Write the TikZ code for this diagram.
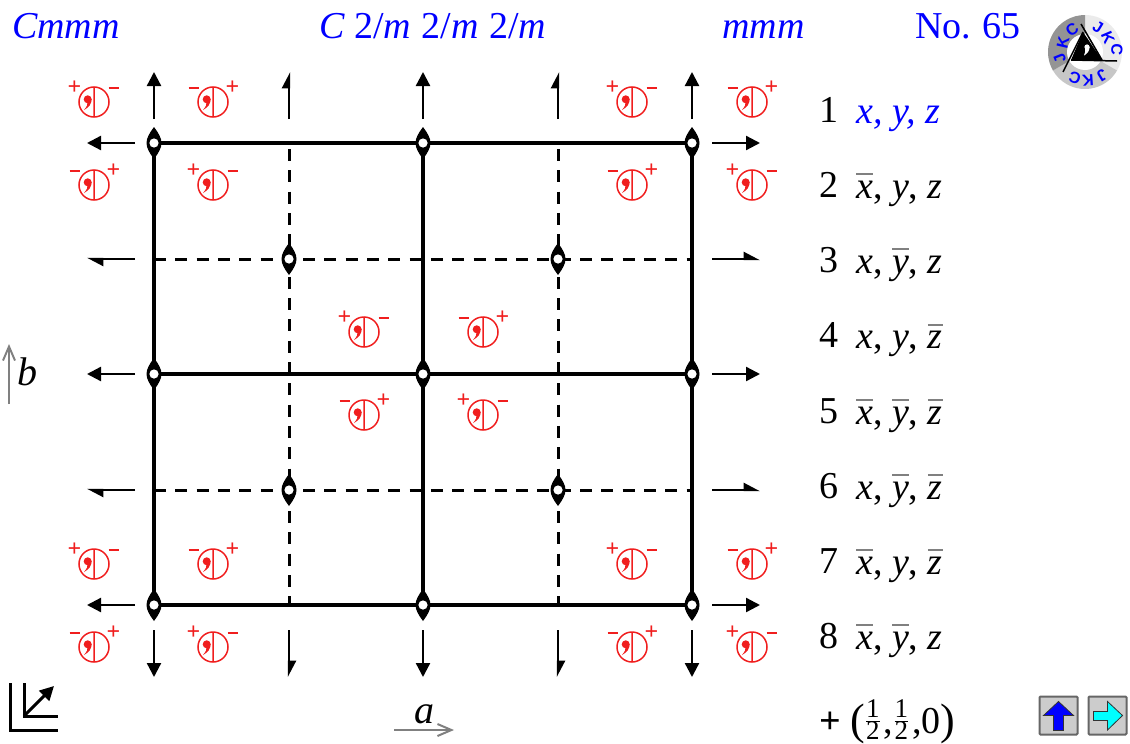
\documentclass[tikz,border=0pt]{standalone}
\usepackage{fontspec}
\setmainfont{Liberation Serif}
\setsansfont{Liberation Sans}
\usetikzlibrary{arrows.meta}
\definecolor{spgblue}{RGB}{0,0,255}
\definecolor{spgred}{RGB}{240,30,30}
\definecolor{spgcyan}{RGB}{0,255,255}
\newsavebox{\ovlbox}
\newcommand{\ovl}[1]{\sbox{\ovlbox}{\textit{#1}}\leavevmode\rlap{\raisebox{23pt}{\textcolor{black!50}{\rule{\wd\ovlbox}{1.8pt}}}}\usebox{\ovlbox}}
\newcommand{\sz}{\fontsize{38}{42}\selectfont}
\newcommand{\hfr}{\raisebox{6pt}{$\frac{\mbox{\fontsize{27}{27}\selectfont 1}}{\mbox{\fontsize{27}{27}\selectfont 2}}$}}
\tikzset{
  x=1pt,y=-1pt,
  title/.style={inner sep=0,anchor=base west,text=spgblue,font=\sz},
  listing/.style={inner sep=0,anchor=base west,font=\sz},
  solidaxis/.style={line width=3.3pt,black},
  dashaxis/.style={line width=3pt,black,dash pattern=on 12pt off 9.3pt},
  fullarrow/.style={line width=2.3pt,-{Triangle[length=14pt,width=14pt]}},
  halfA/.style={line width=2.3pt,-{Triangle[left,length=14pt,width=14pt]}},
  grayarrow/.style={line width=2pt,draw=black!50,-{Straight Barb[length=14pt,width=12pt]}},
  sgn/.style={inner sep=0,text=spgred,font=\bfseries\fontsize{24}{24}\selectfont},
  logoL/.style={inner sep=0,text=spgblue,font=\sffamily\bfseries\fontsize{16}{16}\selectfont},
  navbtn/.style={draw=black!60,line width=2pt,fill=black!20,rounded corners=1pt,minimum size=38pt,inner sep=0},
  axisnode/.pic={
    \fill[black] (0,-16) .. controls (4.5,-10) and (7.5,-5) .. (7.5,0) .. controls (7.5,5) and (4.5,10) .. (0,16)
      .. controls (-4.5,10) and (-7.5,5) .. (-7.5,0) .. controls (-7.5,-5) and (-4.5,-10) .. (0,-16) -- cycle;
    \fill[white] (0,0) circle (4.6);
  },
  sym/.pic={
    \draw[spgred,line width=1.5pt] (0,0) circle (15) (0,-15) -- (0,15);
    \fill[spgred] (-6.3,-2.7) circle (4);
    \fill[spgred] (-2.4,-3) .. controls (-2.2,1.5) and (-5,5.5) .. (-10,8) .. controls (-7,4.5) and (-6,2) .. (-6.5,0) -- cycle;
  }
}
\newcommand{\symb}[4]{% x y leftsign rightsign
  \pic at (#1,#2) {sym};
  \node[sgn] at (#1-19.5,#2-14) {#3};
  \node[sgn] at (#1+19.5,#2-14.5) {#4};
}
\newcommand{\pl}{+}
\newcommand{\mi}{\rule{10pt}{2pt}}
\begin{document}
\begin{tikzpicture}
\useasboundingbox (0,0) rectangle (1130,744);
% titles
\node[title] (t1) at (12,38) {\itshape Cmmm};
\node[title] (t2) at (319,38) {\textit{C} 2/\textit{m}\hspace{1pt} 2/\textit{m}\hspace{1pt} 2/\textit{m}};
\node[title] (t3) at (722,38) {\itshape mmm};
\node[title] (t4) at (915,38) {No.\hspace{-1pt} 65};
% grid points
\foreach \i/\x in {1/154,2/289,3/423,4/558,5/692}
  \foreach \j/\y in {1/143,2/259,3/374,4/490,5/605}
    \coordinate (g\i\j) at (\x,\y);
% axes
\foreach \j in {1,3,5} \draw[solidaxis] (g1\j) -- (g5\j);
\foreach \i in {1,3,5} \draw[solidaxis] (g\i1) -- (g\i5);
\foreach \j in {2,4} \draw[dashaxis] (g1\j) -- (g5\j);
\foreach \i in {2,4} \draw[dashaxis,dash phase=15.3pt] (g\i1) -- (g\i5);
% rotation-point symbols
\foreach \p in {g11,g31,g51,g22,g42,g13,g33,g53,g24,g44,g15,g35,g55}
  \pic at (\p) {axisnode};
% vertical arrows
\foreach \x in {154,423,692}{
  \coordinate (ua) at (\x,119); \coordinate (ub) at (\x,72);
  \coordinate (da) at (\x,630); \coordinate (db) at (\x,677);
  \draw[fullarrow] (ua) -- (ub);
  \draw[fullarrow] (da) -- (db);
}
\foreach \x in {289,558}{
  \coordinate (ua) at (\x,119); \coordinate (ub) at (\x,72);
  \coordinate (da) at (\x,630); \coordinate (db) at (\x,677);
  \draw[halfA] (ua) -- (ub);
  \draw[halfA] (da) -- (db);
}
% horizontal arrows
\foreach \y in {143,374,605}{
  \coordinate (la) at (135,\y); \coordinate (lb) at (87,\y);
  \coordinate (ra) at (712,\y); \coordinate (rb) at (760,\y);
  \draw[fullarrow] (la) -- (lb);
  \draw[fullarrow] (ra) -- (rb);
}
\foreach \y in {259,490}{
  \coordinate (la) at (135,\y); \coordinate (lb) at (87,\y);
  \coordinate (ra) at (712,\y); \coordinate (rb) at (760,\y);
  \draw[halfA] (la) -- (lb);
  \draw[halfA] (ra) -- (rb);
}
% symmetry symbols
\foreach \x/\a/\b in {94/\pl/\mi,213/\mi/\pl,632/\pl/\mi,752/\mi/\pl}{
  \symb{\x}{102}{\a}{\b}
  \symb{\x}{564}{\a}{\b}
}
\foreach \x/\a/\b in {94/\mi/\pl,213/\pl/\mi,632/\mi/\pl,752/\pl/\mi}{
  \symb{\x}{185}{\a}{\b}
  \symb{\x}{647}{\a}{\b}
}
\symb{364}{332}{\pl}{\mi}
\symb{483}{332}{\mi}{\pl}
\symb{364}{415}{\mi}{\pl}
\symb{483}{415}{\pl}{\mi}
% listing
\node[listing] (n1) at (819,122) {1};
\node[listing,text=spgblue] (l1) at (856,123) {\itshape x, y, z};
\node[listing] (n2) at (819,197) {2};
\node[listing] (l2) at (856,198) {\ovl{x}, \textit{y}, \textit{z}};
\node[listing] (n3) at (819,272) {3};
\node[listing] (l3) at (856,273) {\textit{x}, \ovl{y}, \textit{z}};
\node[listing] (n4) at (819,347.5) {4};
\node[listing] (l4) at (856,348.5) {\textit{x}, \textit{y}, \ovl{z}};
\node[listing] (n5) at (819,423) {5};
\node[listing] (l5) at (856,424) {\ovl{x}, \ovl{y}, \ovl{z}};
\node[listing] (n6) at (819,498) {6};
\node[listing] (l6) at (856,499) {\textit{x}, \ovl{y}, \ovl{z}};
\node[listing] (n7) at (819,573) {7};
\node[listing] (l7) at (856,574) {\ovl{x}, \textit{y}, \ovl{z}};
\node[listing] (n8) at (819,648) {8};
\node[listing] (l8) at (856,649) {\ovl{x}, \ovl{y}, \textit{z}};
\node[listing] (cen) at (819,733) {\textbf{+} {\fontsize{44}{44}\selectfont\raisebox{-1pt}{(}}\hfr\kern3pt,\hfr\kern3pt,0{\fontsize{44}{44}\selectfont\raisebox{-1pt}{)}}};
% axis labels
\node[inner sep=0,anchor=base,font=\fontsize{40}{40}\selectfont\itshape] (lb) at (27,385) {b};
\coordinate (b0) at (9,404); \coordinate (b1) at (9,344);
\draw[grayarrow] (b0) -- (b1);
\node[inner sep=0,anchor=base,font=\fontsize{40}{40}\selectfont\itshape] (la) at (424,723) {a};
\coordinate (a0) at (394,730); \coordinate (a1) at (454,730);
\draw[grayarrow] (a0) -- (a1);
% corner axes
\coordinate (c1) at (10,683); \coordinate (c2) at (10,730); \coordinate (c3) at (58,730);
\draw[line width=3pt] (c1) -- (c2) -- (c3);
\coordinate (d1) at (24,683); \coordinate (d2) at (24,716); \coordinate (d3) at (58,716); \coordinate (d4) at (54,686);
\draw[line width=3pt] (d1) -- (d2) -- (d3);
\draw[line width=3pt,-{Triangle[length=14pt,width=14pt]}] (d2) -- (d4);
% logo
\begin{scope}[shift={(1085,52)}]
  \fill[black!8] (-90:37) arc (-90:30:37) -- (0,0) -- cycle;
  \fill[black!22] (30:37) arc (30:150:37) -- (0,0) -- cycle;
  \fill[black!42] (150:37) arc (150:270:37) -- (0,0) -- cycle;
  \fill[white] (0,0) circle (18);
  \draw[black,line width=1.5pt] (-4,-28) -- (17,8) (-22,20) -- (-2,-20) (-14,8) -- (32,9);
  \fill[black] (-2,-20) -- (17,8) -- (-14,8) -- cycle;
  \fill[white] (2,-5) circle (2.6);
  \fill[white] (4.6,-5) .. controls (4.6,-1) and (2,2) .. (-1,3.5) .. controls (0,1) and (0.5,-1) .. (0,-3) -- cycle;
  \node[logoL,rotate=-31] (j1) at (13,-25) {J};
  \node[logoL,rotate=-67] (k1) at (23,-14) {K};
  \node[logoL,rotate=-94] (c1l) at (32,-2) {C};
  \node[logoL,rotate=-148] (j2) at (17,23) {J};
  \node[logoL,rotate=-176] (k2) at (3,28) {K};
  \node[logoL,rotate=-198] (c2l) at (-10,26) {C};
  \node[logoL,rotate=112] (j3) at (-25,6) {J};
  \node[logoL,rotate=77] (k3) at (-22,-9) {K};
  \node[logoL,rotate=36] (c3l) at (-13,-22) {C};
\end{scope}
% buttons
\node[navbtn] (up) at (1058.5,715.5) {};
\node[navbtn] (rt) at (1107.5,715.5) {};
\begin{scope}[shift={(up.center)}]
  \fill[spgblue,draw=black!80,line width=.8pt] (0,-14) -- (15,0) -- (5,0) -- (5,15) -- (-5,15) -- (-5,0) -- (-15,0) -- cycle;
\end{scope}
\begin{scope}[shift={(rt.center)}]
  \fill[spgcyan,draw=black!80,line width=.8pt] (15,0) -- (0,14.5) -- (0,5) -- (-14,5) -- (-14,-4) -- (0,-4) -- (0,-14) -- cycle;
\end{scope}
\end{tikzpicture}
\end{document}
